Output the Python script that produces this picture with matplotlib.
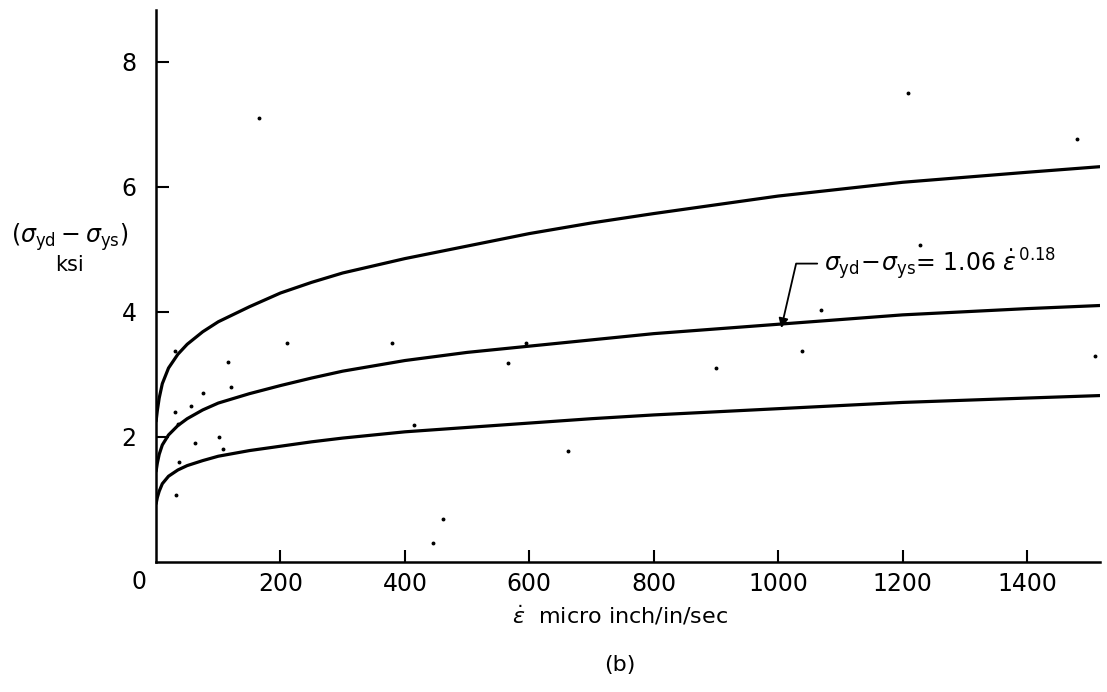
import matplotlib.pyplot as plt

# strain rate (micro inch/in/sec) and stress difference (ksi)
x_top = [0, 2, 5, 10, 20, 35, 50, 75, 100, 150, 200, 250, 300, 400, 500, 600, 700, 800, 1000, 1200, 1400, 1518]
y_top = [2.25, 2.42, 2.62, 2.85, 3.1, 3.32, 3.48, 3.68, 3.84, 4.08, 4.3, 4.47, 4.62, 4.85, 5.05, 5.25, 5.42, 5.57, 5.85, 6.07, 6.23, 6.32]

x_mid = [0, 2, 5, 10, 20, 35, 50, 75, 100, 150, 200, 250, 300, 400, 500, 600, 700, 800, 1000, 1200, 1400, 1518]
y_mid = [1.45, 1.58, 1.72, 1.87, 2.03, 2.18, 2.29, 2.43, 2.54, 2.69, 2.82, 2.94, 3.05, 3.22, 3.35, 3.45, 3.55, 3.65, 3.8, 3.95, 4.05, 4.1]

x_low = [0, 2, 5, 10, 20, 35, 50, 75, 100, 150, 200, 250, 300, 400, 500, 600, 700, 800, 1000, 1200, 1400, 1518]
y_low = [0.93, 1.03, 1.13, 1.25, 1.37, 1.47, 1.54, 1.62, 1.69, 1.78, 1.85, 1.92, 1.98, 2.08, 2.15, 2.22, 2.29, 2.35, 2.45, 2.55, 2.62, 2.66]

# test points
pts_x = [31, 56, 35, 101, 63, 108, 37, 32, 31, 75, 115, 120, 165, 210, 380, 415, 461, 445,
         565, 595, 662, 900, 1039, 1069, 1228, 1510, 1481, 1209]
pts_y = [2.4, 2.5, 2.2, 2.0, 1.9, 1.8, 1.6, 1.07, 3.38, 2.7, 3.2, 2.8, 7.1, 3.5, 3.5, 2.19, 0.69, 0.3,
         3.18, 3.5, 1.78, 3.1, 3.38, 4.02, 5.07, 3.3, 6.77, 7.5]

xticks = [200, 400, 600, 800, 1000, 1200, 1400]
yticks = [2, 4, 6, 8]

plt.rcParams['font.family'] = ['DejaVu Sans']
plt.rcParams['mathtext.fontset'] = 'dejavusans'

fig = plt.figure(figsize=(11.07, 6.92), dpi=100)
ax = fig.add_axes([0.141, 0.188, 0.853, 0.798])

for xs, ys in [(x_top, y_top), (x_mid, y_mid), (x_low, y_low)]:
    ax.plot(xs, ys, color='black', lw=2.3, solid_capstyle='round', solid_joinstyle='round')
ax.plot(pts_x, pts_y, 'o', color='black', ms=1.8, ls='none')

ax.set_xlim(0, 1518)
ax.set_ylim(0, 8.83)
for s in ['top', 'right']:
    ax.spines[s].set_visible(False)
for s in ['left', 'bottom']:
    ax.spines[s].set_linewidth(1.8)

ax.set_xticks(xticks)
ax.set_yticks(yticks)
ax.tick_params(direction='in', length=9, width=1.5, labelsize=17)
ax.tick_params(axis='x', pad=7)
ax.tick_params(axis='y', pad=14)
ax.text(-0.018, -0.036, '0', transform=ax.transAxes, fontsize=17, ha='center', va='center')

ax.annotate(r'$\sigma_{\mathrm{yd}}\!-\!\sigma_{\mathrm{ys}}$= 1.06 $\dot{\epsilon}^{\,0.18}$',
            xy=(1005, 3.74), xytext=(1074, 4.77), fontsize=17, ha='left', va='center',
            arrowprops=dict(arrowstyle='-|>', color='black', lw=1.3,
                            connectionstyle='angle,angleA=0,angleB=77,rad=0',
                            relpos=(0, 0.5), shrinkA=3, shrinkB=0, mutation_scale=14))

fig.text(0.063, 0.657, r'$(\sigma_{\mathrm{yd}} - \sigma_{\mathrm{ys}})$', fontsize=17, ha='center', va='center')
fig.text(0.063, 0.617, 'ksi', fontsize=15, ha='center', va='center')
fig.text(0.56, 0.11, r'$\dot{\epsilon}$  micro inch/in/sec', fontsize=16, ha='center', va='center')
fig.text(0.56, 0.039, '(b)', fontsize=16, ha='center', va='center')

fig.savefig('out.png', dpi=100)
